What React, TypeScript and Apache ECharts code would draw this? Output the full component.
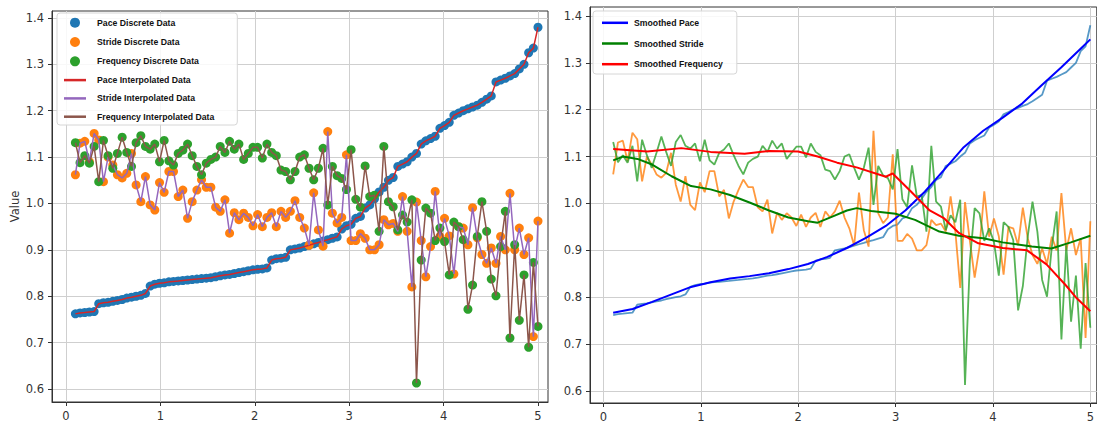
import React, { useEffect, useRef } from "react";
import * as echarts from "echarts";

// x positions of the 100 samples
const xs = [
  0.1, 0.149, 0.199, 0.248, 0.298, 0.347, 0.397, 0.446, 0.496, 0.545,
  0.595, 0.644, 0.694, 0.743, 0.793, 0.842, 0.892, 0.941, 0.991, 1.04,
  1.09, 1.139, 1.189, 1.238, 1.288, 1.337, 1.387, 1.436, 1.486, 1.535,
  1.585, 1.634, 1.684, 1.733, 1.783, 1.832, 1.882, 1.931, 1.981, 2.03,
  2.08, 2.129, 2.179, 2.228, 2.278, 2.327, 2.377, 2.426, 2.476, 2.525,
  2.575, 2.624, 2.674, 2.723, 2.773, 2.822, 2.872, 2.921, 2.971, 3.02,
  3.07, 3.119, 3.169, 3.218, 3.268, 3.317, 3.367, 3.416, 3.466, 3.515,
  3.565, 3.614, 3.664, 3.713, 3.763, 3.812, 3.862, 3.911, 3.961, 4.01,
  4.06, 4.109, 4.159, 4.208, 4.258, 4.307, 4.357, 4.406, 4.456, 4.505,
  4.555, 4.604, 4.654, 4.703, 4.753, 4.802, 4.852, 4.901, 4.951, 5.0,
];

const pace = [
  0.762, 0.764, 0.765, 0.766, 0.767, 0.784, 0.786, 0.787, 0.789, 0.791,
  0.793, 0.796, 0.798, 0.8, 0.802, 0.806, 0.822, 0.826, 0.828, 0.829,
  0.831, 0.832, 0.833, 0.834, 0.835, 0.836, 0.837, 0.838, 0.839, 0.84,
  0.842, 0.844, 0.846, 0.847, 0.849, 0.851, 0.853, 0.855, 0.857, 0.858,
  0.859, 0.861, 0.878, 0.881, 0.882, 0.884, 0.9, 0.902, 0.904, 0.907,
  0.91, 0.913, 0.916, 0.919, 0.922, 0.925, 0.928, 0.945, 0.952, 0.955,
  0.968, 0.972, 0.99, 0.997, 1.01, 1.025, 1.035, 1.05, 1.056, 1.08,
  1.085, 1.09, 1.1, 1.108, 1.128, 1.135, 1.14, 1.145, 1.162, 1.168,
  1.175, 1.19, 1.195, 1.2, 1.204, 1.208, 1.212, 1.218, 1.225, 1.232,
  1.262, 1.266, 1.27, 1.275, 1.28, 1.29, 1.3, 1.325, 1.335, 1.38,
];

const stride = [
  1.062, 1.13, 1.134, 1.09, 1.151, 1.137, 1.047, 1.1, 1.083, 1.062,
  1.055, 1.065, 1.108, 1.04, 1.004, 1.058, 0.997, 0.986, 1.045, 1.024,
  1.069, 1.069, 1.015, 1.029, 0.968, 1.004, 1.029, 1.051, 1.035, 1.035,
  0.992, 0.983, 1.008, 0.936, 0.98, 0.965, 0.979, 0.97, 0.952, 0.976,
  0.95, 0.97, 0.98, 0.95, 0.983, 0.97, 0.983, 1.006, 0.97, 0.947,
  0.91, 1.023, 0.943, 0.908, 1.155, 0.979, 0.958, 0.97, 1.105, 0.92,
  0.92, 0.935, 0.925, 0.9, 0.9, 0.911, 0.965, 0.954, 0.957, 0.94,
  1.015, 0.94, 0.82, 1.003, 0.92, 0.842, 0.907, 1.026, 0.929, 0.968,
  0.93, 0.848, 0.95, 0.947, 0.911, 0.991, 0.926, 0.89, 0.871, 0.904,
  0.871, 0.929, 0.9, 1.022, 0.9, 0.947, 0.89, 0.926, 0.713, 0.962,
];

const frequency = [
  1.131, 1.088, 1.103, 1.087, 1.123, 1.047, 1.136, 1.103, 1.076, 1.108,
  1.143, 1.11, 1.08, 1.131, 1.146, 1.123, 1.117, 1.128, 1.09, 1.136,
  1.092, 1.083, 1.108, 1.115, 1.128, 1.103, 1.08, 1.062, 1.087, 1.095,
  1.1, 1.123, 1.11, 1.134, 1.117, 1.128, 1.095, 1.108, 1.121, 1.121,
  1.098, 1.128, 1.11, 1.103, 1.072, 1.069, 1.051, 1.069, 1.1, 1.105,
  1.076, 1.051, 1.076, 1.119, 0.997, 1.08, 1.06, 1.054, 1.03, 1.116,
  1.009, 0.992, 1.081, 1.015, 1.018, 0.94, 1.123, 1.004, 0.993, 0.943,
  0.975, 0.96, 1.008, 0.613, 0.878, 0.99, 0.979, 0.92, 0.947, 0.918,
  0.846, 0.96, 0.95, 0.922, 0.772, 0.824, 0.929, 1.004, 0.94, 0.837,
  0.801, 0.907, 0.983, 0.71, 0.911, 0.748, 0.846, 0.69, 0.873, 0.735,
];

const smoothPaceX = [0.1, 0.3, 0.5, 0.7, 0.9, 1.1, 1.3, 1.5, 1.7, 1.9, 2.1, 2.3, 2.5, 2.7, 2.9, 3.1, 3.3, 3.5, 3.7, 3.9, 4.1, 4.3, 4.5, 4.7, 4.9, 5.0];
const smoothPaceY = [0.767, 0.775, 0.79, 0.806, 0.822, 0.832, 0.84, 0.845, 0.851, 0.86, 0.871, 0.886, 0.905, 0.927, 0.952, 0.985, 1.025, 1.072, 1.12, 1.155, 1.183, 1.213, 1.252, 1.29, 1.33, 1.35];

const smoothStrideX = [0.1, 0.2, 0.35, 0.5, 0.7, 0.9, 1.1, 1.3, 1.5, 1.7, 1.9, 2.1, 2.2, 2.35, 2.5, 2.6, 2.75, 3.0, 3.2, 3.45, 3.65, 3.9, 4.1, 4.4, 4.6, 4.8, 5.0];
const smoothStrideY = [1.092, 1.1, 1.095, 1.083, 1.058, 1.037, 1.03, 1.018, 1.002, 0.985, 0.97, 0.962, 0.959, 0.972, 0.985, 0.99, 0.984, 0.978, 0.965, 0.94, 0.931, 0.926, 0.917, 0.908, 0.904, 0.917, 0.931];

const smoothFreqX = [0.1, 0.45, 0.8, 1.1, 1.45, 1.7, 2.0, 2.2, 2.4, 2.6, 2.9, 2.97, 3.15, 3.35, 3.5, 3.65, 3.85, 4.1, 4.35, 4.55, 4.75, 4.85, 5.0];
const smoothFreqY = [1.116, 1.111, 1.118, 1.11, 1.106, 1.112, 1.111, 1.1, 1.087, 1.077, 1.057, 1.064, 1.027, 0.985, 0.968, 0.937, 0.915, 0.905, 0.9, 0.87, 0.825, 0.8, 0.77];

const yTicks = [0.6, 0.7, 0.8, 0.9, 1.0, 1.1, 1.2, 1.3, 1.4];
const xTicks = [0, 1, 2, 3, 4, 5];

const FONT = "DejaVu Sans, sans-serif";
const LEG_FONT = "Liberation Sans, Arial, sans-serif";
const LINE_ICON = "path://M0,0 L22,0 L22,2.5 L0,2.5 Z";
const LINE_ICON_R = "path://M0,0 L26,0 L26,2.5 L0,2.5 Z";

function pairs(x: number[], y: number[]) {
  return x.map((v, i) => [v, y[i]]);
}

function xAxisCfg(gridIndex: number, min: number, max: number) {
  return {
    type: "value",
    gridIndex,
    min,
    max,
    axisLine: { show: true, onZero: false, lineStyle: { color: "#333", width: 1 } },
    axisTick: { show: true, length: 4, customValues: xTicks, lineStyle: { color: "#333" } },
    axisLabel: { customValues: xTicks, margin: 8, color: "#333", fontSize: 11.5, fontFamily: FONT, formatter: (v: number) => String(Math.round(v)) },
    splitLine: { show: true, lineStyle: { color: "#cfcfcf", width: 1 } },
  };
}

function yAxisCfg(gridIndex: number, min: number, max: number, name?: string) {
  return {
    type: "value",
    gridIndex,
    min,
    max,
    name: name || "",
    nameLocation: "middle",
    nameGap: 31,
    nameTextStyle: { color: "#333", fontSize: 11.5, fontFamily: FONT },
    axisLine: { show: true, onZero: false, lineStyle: { color: "#333", width: 1 } },
    axisTick: { show: true, length: 4, customValues: yTicks, lineStyle: { color: "#333" } },
    axisLabel: { customValues: yTicks, margin: 8, color: "#333", fontSize: 11.5, fontFamily: FONT, formatter: (v: number) => v.toFixed(1) },
    splitLine: { show: true, lineStyle: { color: "#cfcfcf", width: 1 } },
  };
}

export default function App() {
  const ref = useRef<HTMLDivElement>(null);
  useEffect(() => {
    if (!ref.current) return;
    const chart = echarts.init(ref.current, undefined, { renderer: "svg" });
    const scatter = (name: string, y: number[], color: string) => ({
      name,
      type: "scatter",
      xAxisIndex: 0,
      yAxisIndex: 0,
      data: pairs(xs, y),
      symbolSize: 9,
      itemStyle: { color, opacity: 1 },
      silent: true,
    });
    const line = (name: string, axis: number, x: number[], y: number[], color: string, width: number, opacity = 1) => ({
      name,
      type: "line",
      xAxisIndex: axis,
      yAxisIndex: axis,
      data: pairs(x, y),
      symbol: "none",
      showSymbol: false,
      lineStyle: { color, width, opacity },
      itemStyle: { color },
      silent: true,
    });
    chart.setOption({
      animation: false,
      backgroundColor: "#ffffff",
      grid: [
        { left: 52, top: 11, width: 496, height: 391, show: true, borderColor: "#333", borderWidth: 1, backgroundColor: "transparent" },
        { left: 590, top: 7, width: 509, height: 396, show: true, borderColor: "#333", borderWidth: 1, backgroundColor: "transparent" },
      ],
      xAxis: [xAxisCfg(0, -0.148, 5.106), xAxisCfg(1, -0.138, 5.066)],
      yAxis: [yAxisCfg(0, 0.572, 1.415, "Value"), yAxisCfg(1, 0.5744, 1.419)],
      legend: [
        {
          orient: "vertical",
          left: 57,
          top: 13,
          data: [
            { name: "Pace Discrete Data", icon: "circle" },
            { name: "Stride Discrete Data", icon: "circle" },
            { name: "Frequency Discrete Data", icon: "circle" },
            { name: "Pace Interpolated Data", icon: LINE_ICON },
            { name: "Stride Interpolated Data", icon: LINE_ICON },
            { name: "Frequency Interpolated Data", icon: LINE_ICON },
          ],
          itemWidth: 22,
          itemHeight: 10,
          itemGap: 9.3,
          padding: [4.7, 23, 3.8, 7],
          backgroundColor: "rgba(255,255,255,0.85)",
          borderColor: "#d6d6d6",
          borderWidth: 1,
          borderRadius: 3,
          textStyle: { fontSize: 8.7, fontWeight: "bold", fontFamily: LEG_FONT, color: "#111", padding: [0, 0, 0, 6] },
          selectedMode: false,
        },
        {
          orient: "vertical",
          left: 593,
          top: 11,
          data: [
            { name: "Smoothed Pace", icon: LINE_ICON_R },
            { name: "Smoothed Stride", icon: LINE_ICON_R },
            { name: "Smoothed Frequency", icon: LINE_ICON_R },
          ],
          itemWidth: 26,
          itemHeight: 10,
          itemGap: 11.7,
          padding: [7.3, 14, 5.3, 9],
          backgroundColor: "rgba(255,255,255,0.85)",
          borderColor: "#d6d6d6",
          borderWidth: 1,
          borderRadius: 3,
          textStyle: { fontSize: 8.7, fontWeight: "bold", fontFamily: LEG_FONT, color: "#111", padding: [0, 0, 0, 1] },
          selectedMode: false,
        },
      ],
      series: [
        scatter("Pace Discrete Data", pace, "#1f77b4"),
        scatter("Stride Discrete Data", stride, "#ff7f0e"),
        scatter("Frequency Discrete Data", frequency, "#2ca02c"),
        line("Pace Interpolated Data", 0, xs, pace, "#d62728", 1.5),
        line("Stride Interpolated Data", 0, xs, stride, "#9467bd", 1.5),
        line("Frequency Interpolated Data", 0, xs, frequency, "#8c564b", 1.5),
        line("Pace Raw", 1, xs, pace, "#1f77b4", 1.8, 0.75),
        line("Stride Raw", 1, xs, stride, "#ff7f0e", 1.8, 0.8),
        line("Frequency Raw", 1, xs, frequency, "#2ca02c", 1.8, 0.8),
        line("Smoothed Pace", 1, smoothPaceX, smoothPaceY, "#0000ff", 2),
        line("Smoothed Stride", 1, smoothStrideX, smoothStrideY, "#008000", 2),
        line("Smoothed Frequency", 1, smoothFreqX, smoothFreqY, "#ff0000", 2),
      ],
    });
    return () => chart.dispose();
  }, []);
  return (
    <div
      ref={ref}
      style={{ position: "fixed", left: 0, top: 0, width: 1097, height: 423, background: "#fff" }}
    />
  );
}
